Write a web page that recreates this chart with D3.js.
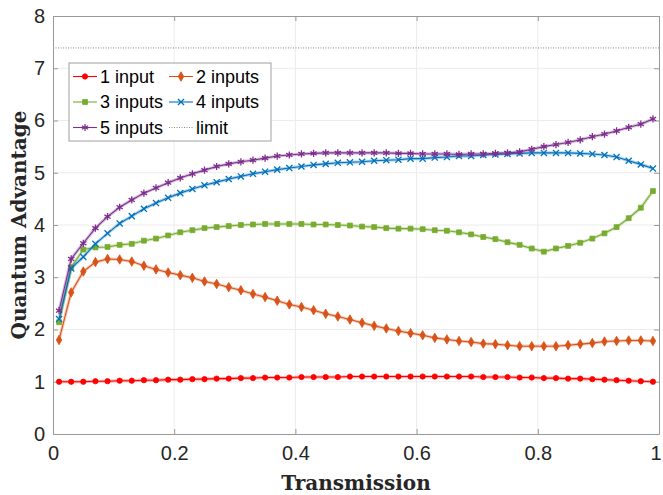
<!DOCTYPE html>
<html><head><meta charset="utf-8">
<script src="https://cdn.jsdelivr.net/npm/d3@7"></script>
<style>body{margin:0;background:#fff}svg{display:block}</style>
</head><body><svg id="c" width="663" height="495"></svg>
<script>
const transmission = [0.01,0.03,0.05,0.07,0.09,0.11,0.13,0.15,0.17,0.19,0.21,0.23,0.25,0.27,0.29,0.31,0.33,0.35,0.37,0.39,0.41,0.43,0.45,0.47,0.49,0.51,0.53,0.55,0.57,0.59,0.61,0.63,0.65,0.67,0.69,0.71,0.73,0.75,0.77,0.79,0.81,0.83,0.85,0.87,0.89,0.91,0.93,0.95,0.97,0.99];
const input1 = [1.00,1.00,1.00,1.01,1.01,1.02,1.02,1.03,1.03,1.04,1.04,1.05,1.05,1.06,1.06,1.07,1.07,1.08,1.08,1.08,1.09,1.09,1.09,1.09,1.10,1.10,1.10,1.10,1.10,1.10,1.10,1.10,1.10,1.10,1.10,1.09,1.09,1.09,1.08,1.08,1.07,1.07,1.06,1.06,1.05,1.04,1.03,1.02,1.01,1.00];
const input2 = [1.80,2.71,3.11,3.29,3.35,3.34,3.30,3.22,3.15,3.09,3.04,2.99,2.92,2.87,2.81,2.75,2.68,2.62,2.55,2.48,2.43,2.37,2.30,2.25,2.19,2.13,2.07,2.02,1.97,1.93,1.89,1.84,1.81,1.78,1.76,1.73,1.72,1.70,1.68,1.68,1.68,1.68,1.70,1.72,1.74,1.77,1.78,1.79,1.79,1.78];
const input3 = [2.14,3.19,3.53,3.57,3.58,3.62,3.64,3.70,3.74,3.80,3.86,3.90,3.94,3.96,3.98,4.00,4.01,4.02,4.02,4.02,4.02,4.01,4.01,4.00,3.99,3.97,3.96,3.94,3.93,3.93,3.92,3.90,3.89,3.86,3.82,3.77,3.73,3.67,3.62,3.55,3.49,3.55,3.60,3.66,3.74,3.84,3.96,4.13,4.33,4.65];
const input4 = [2.20,3.17,3.39,3.64,3.84,4.03,4.17,4.31,4.42,4.52,4.61,4.69,4.76,4.82,4.88,4.93,4.98,5.02,5.06,5.09,5.12,5.15,5.17,5.19,5.20,5.21,5.23,5.24,5.25,5.27,5.27,5.29,5.30,5.32,5.32,5.34,5.35,5.36,5.37,5.38,5.38,5.38,5.38,5.37,5.36,5.34,5.30,5.23,5.16,5.08];
const input5 = [2.36,3.35,3.65,3.94,4.16,4.34,4.48,4.61,4.71,4.81,4.90,4.98,5.05,5.12,5.17,5.21,5.24,5.28,5.32,5.34,5.36,5.37,5.38,5.38,5.38,5.38,5.38,5.38,5.37,5.37,5.36,5.36,5.36,5.35,5.36,5.36,5.37,5.38,5.40,5.45,5.50,5.54,5.58,5.63,5.69,5.74,5.80,5.87,5.93,6.03];
const limitValue = 7.389;
const seriesNames = ["1 input","2 inputs","3 inputs","4 inputs","5 inputs","limit"];
const xTicks = [0,0.2,0.4,0.6,0.8,1];
const yTicks = [0,1,2,3,4,5,6,7,8];

const svg = d3.select("#c");
const L = 53, R = 659, T = 16, B = 434;
const x = d3.scaleLinear().domain([0,1]).range([L,R]);
const y = d3.scaleLinear().domain([0,8]).range([B,T]);
const axisCol = "#999";

// grid
const g = svg.append("g");
g.selectAll(".gx").data(xTicks.slice(1,-1)).join("line")
  .attr("x1",d=>x(d)).attr("x2",d=>x(d)).attr("y1",T).attr("y2",B)
  .attr("stroke","#ececec").attr("stroke-width",1);
g.selectAll(".gy").data(yTicks.slice(1,-1)).join("line")
  .attr("y1",d=>y(d)).attr("y2",d=>y(d)).attr("x1",L).attr("x2",R)
  .attr("stroke","#ececec").attr("stroke-width",1);

// limit
svg.append("line").attr("x1",L).attr("x2",R).attr("y1",y(limitValue)).attr("y2",y(limitValue))
  .attr("stroke","#888").attr("stroke-width",1).attr("stroke-dasharray","1,1.5");

// axes
const font = "'Liberation Sans', Arial, sans-serif";
const ax = svg.append("g").attr("transform",`translate(0,${B})`)
  .call(d3.axisBottom(x).tickValues(xTicks).tickFormat(d3.format("")).tickSizeInner(-5).tickSizeOuter(0).tickPadding(12));
const ay = svg.append("g").attr("transform",`translate(${L},0)`)
  .call(d3.axisLeft(y).tickValues(yTicks).tickFormat(d3.format("d")).tickSizeInner(-5).tickSizeOuter(0).tickPadding(8));
const axt = svg.append("g").attr("transform",`translate(0,${T})`)
  .call(d3.axisTop(x).tickValues(xTicks).tickFormat("").tickSizeInner(-5).tickSizeOuter(0));
const ayr = svg.append("g").attr("transform",`translate(${R},0)`)
  .call(d3.axisRight(y).tickValues(yTicks).tickFormat("").tickSizeInner(-5).tickSizeOuter(0));
[ax,ay,axt,ayr].forEach(a=>{
  a.select(".domain").attr("stroke",axisCol);
  a.selectAll(".tick line").attr("stroke",axisCol);
  a.selectAll(".tick text").attr("fill","#262626").style("font-family",font).style("font-size","20px");
});
ax.selectAll(".tick text").filter(d=>d===1).style("text-anchor","end").attr("dx","0.1em");

const series = [
  {name:seriesNames[0], v:input1, color:"#ff0000", sym:d3.symbolCircle, size:22, fill:true},
  {name:seriesNames[1], v:input2, color:"#d95319", sym:d3.symbolDiamond, size:26, fill:true},
  {name:seriesNames[2], v:input3, color:"#77ac30", sym:d3.symbolSquare, size:24, fill:true},
  {name:seriesNames[3], v:input4, color:"#0072bd", sym:d3.symbolTimes, size:26, fill:false},
  {name:seriesNames[4], v:input5, color:"#7e2f8e", sym:d3.symbolAsterisk, size:36, fill:false}
];
const line = d3.line().x((d,i)=>x(transmission[i])).y(d=>y(d));
series.forEach(s=>{
  const gg = svg.append("g");
  gg.append("path").attr("d",line(s.v)).attr("fill","none").attr("stroke",s.color).attr("stroke-opacity",0.3).attr("stroke-width",3.2);
  gg.append("path").attr("d",line(s.v)).attr("fill","none").attr("stroke",s.color).attr("stroke-width",1.1);
  const sy = d3.symbol().type(s.sym).size(s.size);
  gg.selectAll("path.m").data(s.v).join("path").attr("class","m")
    .attr("transform",(d,i)=>`translate(${x(transmission[i])},${y(d)})`)
    .attr("d",sy())
    .attr("fill",s.fill?s.color:"none")
    .attr("stroke",s.color).attr("stroke-width",s.fill?0.8:1.3);
});

// legend
const lg = svg.append("g");
const lx = 69, ly = 63, lw = 202, lh = 78;
lg.append("rect").attr("x",lx).attr("y",ly).attr("width",lw).attr("height",lh)
  .attr("fill","#fff").attr("stroke","#a0a0a0").attr("stroke-width",1);
const items = [...series, {name:seriesNames[5], color:"#888", limit:true}];
items.forEach((s,k)=>{
  const col = k%2, row = Math.floor(k/2);
  const x0 = lx + 4 + col*96, yc = ly + 13.5 + row*25.5;
  if (s.limit) {
    lg.append("line").attr("x1",x0).attr("x2",x0+24).attr("y1",yc).attr("y2",yc)
      .attr("stroke","#888").attr("stroke-dasharray","1,1.5");
  } else {
    lg.append("line").attr("x1",x0).attr("x2",x0+24).attr("y1",yc).attr("y2",yc)
      .attr("stroke",s.color).attr("stroke-width",1.1);
    lg.append("path").attr("transform",`translate(${x0+12},${yc})`)
      .attr("d",d3.symbol().type(s.sym).size(s.size)())
      .attr("fill",s.fill?s.color:"none").attr("stroke",s.color).attr("stroke-width",s.fill?0.8:1.3);
  }
  lg.append("text").attr("x",x0+27).attr("y",yc).attr("dy","0.36em")
    .style("font-family",font).style("font-size","18px").attr("fill","#000").text(s.name);
});

// axis titles
svg.append("text").attr("x",(L+R)/2).attr("y",490).attr("text-anchor","middle")
  .style("font-family","'DejaVu Serif', serif").style("font-weight","bold").style("font-size","20px")
  .attr("fill","#262626").text("Transmission");
svg.append("text").attr("transform",`translate(26,${(T+B)/2}) rotate(-90)`).attr("text-anchor","middle")
  .style("font-family","'DejaVu Serif', serif").style("font-weight","bold").style("font-size","20px")
  .attr("fill","#262626").text("Quantum Advantage");
</script></body></html>
